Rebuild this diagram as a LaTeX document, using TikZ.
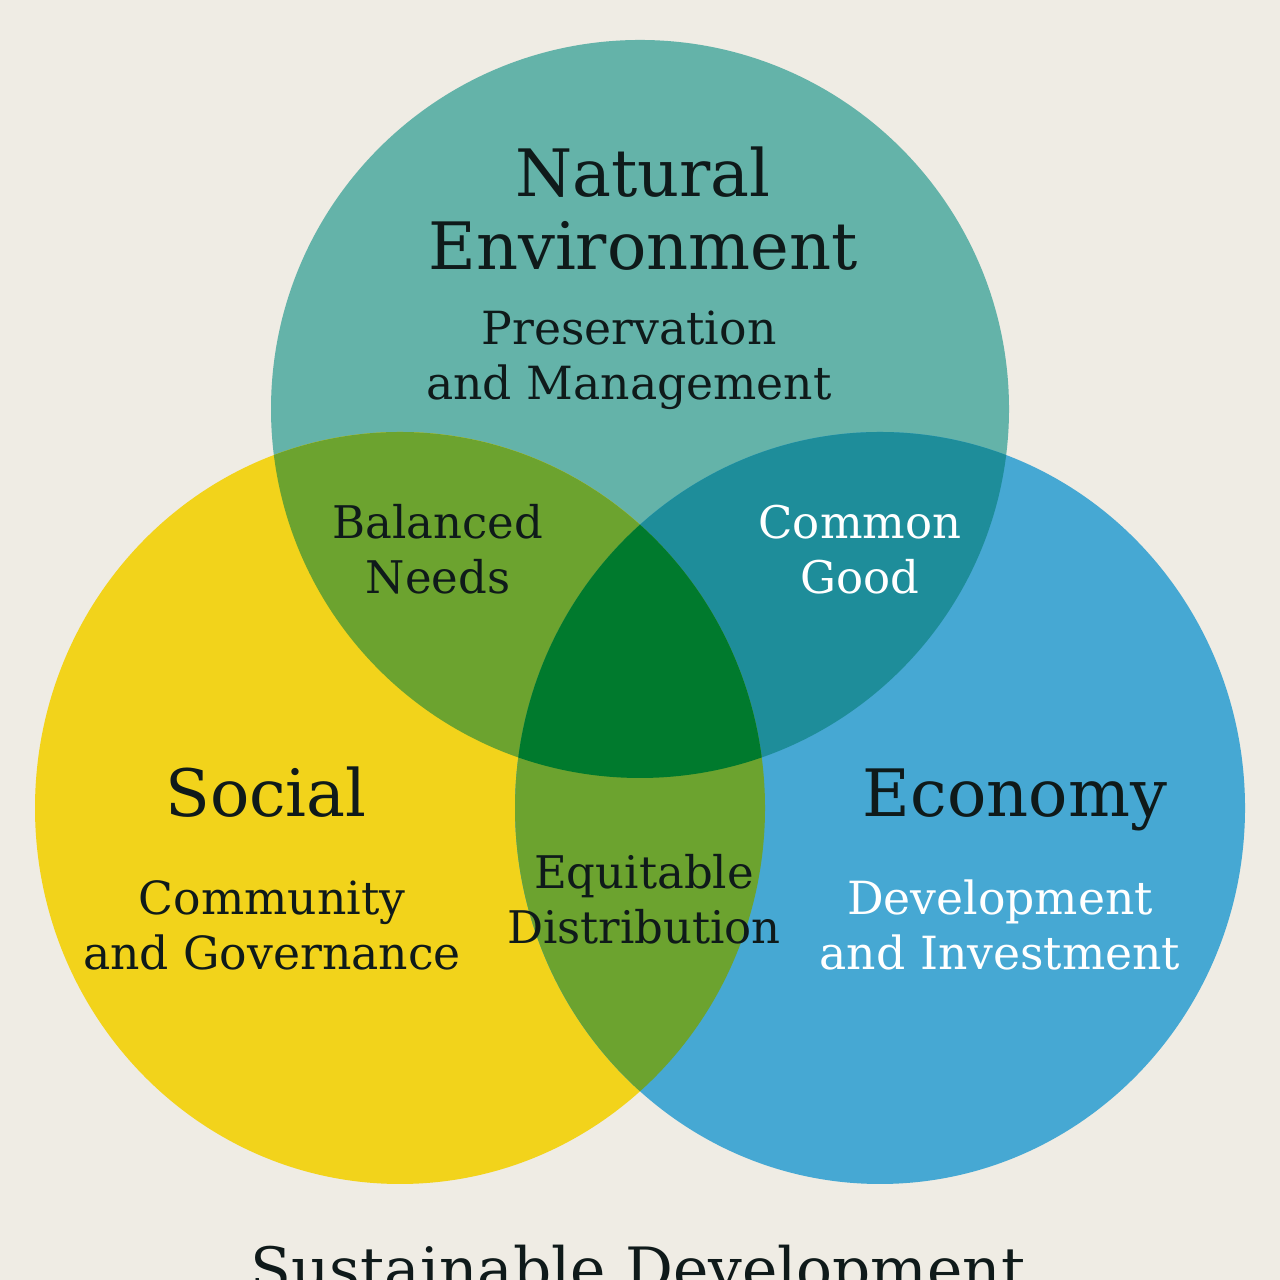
\documentclass[tikz,border=0pt]{standalone}
\usepackage{fontspec}
\setmainfont{DejaVu Serif}
\usetikzlibrary{positioning}

\definecolor{bgcream}{HTML}{EFECE4}
\definecolor{envteal}{HTML}{64B3A9}
\definecolor{socyellow}{HTML}{F2D31B}
\definecolor{ecoblue}{HTML}{46A8D3}
\definecolor{olivemix}{HTML}{6CA32F}
\definecolor{tealmix}{HTML}{1E8D9A}
\definecolor{coregreen}{HTML}{007A2D}
\definecolor{inkdark}{HTML}{0F1A1A}

\begin{document}
\begin{tikzpicture}[
        head/.style={
            font=\fontsize{18.6}{21}\selectfont, text=inkdark,
            align=center, inner sep=0pt, anchor=base
        },
        sub/.style={
            font=\fontsize{13}{15.8}\selectfont, text=inkdark,
            align=center, inner sep=0pt, anchor=base
        },
        overlap/.style={
            font=\fontsize{12.8}{15.8}\selectfont, text=inkdark,
            align=center, inner sep=0pt, anchor=base
        },
        title/.style={
            font=\fontsize{17}{20}\selectfont, text=inkdark,
            inner sep=0pt, anchor=base
        }
    ]
    \useasboundingbox (0,0) rectangle (12.8,12.8);
    \clip (0,0) rectangle (12.8,12.8);
    \fill[bgcream] (0,0) rectangle (12.8,12.8);

    % Circles
    \fill[envteal] (6.40,8.71) circle (3.69);
    \fill[socyellow] (4.00,4.72) ellipse [x radius=3.65, y radius=3.76];
    \fill[ecoblue] (8.80,4.72) ellipse [x radius=3.65, y radius=3.76];

    % Overlaps
    \begin{scope}
        \clip (6.40,8.71) circle (3.69);
        \fill[olivemix] (4.00,4.72) ellipse [x radius=3.65, y radius=3.76];
        \fill[tealmix] (8.80,4.72) ellipse [x radius=3.65, y radius=3.76];
    \end{scope}
    \begin{scope}
        \clip (4.00,4.72) ellipse [x radius=3.65, y radius=3.76];
        \fill[olivemix] (8.80,4.72) ellipse [x radius=3.65, y radius=3.76];
        \clip (6.40,8.71) circle (3.69);
        \fill[coregreen] (8.80,4.72) ellipse [x radius=3.65, y radius=3.76];
    \end{scope}

    % Circle titles
    \node[head] (envhead) at (6.43,10.10) {Natural\\Environment};
    \node[sub] (envsub) at (6.29,8.80) {Preservation\\and Management};
    \node[head] (sochead) at (2.66,4.63) {Social};
    \node[sub] (socsub) at (2.72,3.10) {Community\\and Governance};
    \node[head] (ecohead) at (10.15,4.63) {Economy};
    \node[sub, text=white] (ecosub) at (10.00,3.10) {Development\\and Investment};

    % Overlap labels
    \node[overlap] (balanced) at (4.38,6.86) {Balanced\\Needs};
    \node[overlap, text=white] (common) at (8.60,6.86) {Common\\Good};
    \node[overlap] (equitable) at (6.44,3.36) {Equitable\\Distribution};

    % Caption
    \node[title] (caption) at (6.38,-0.11) {Sustainable Development};
\end{tikzpicture}
\end{document}
